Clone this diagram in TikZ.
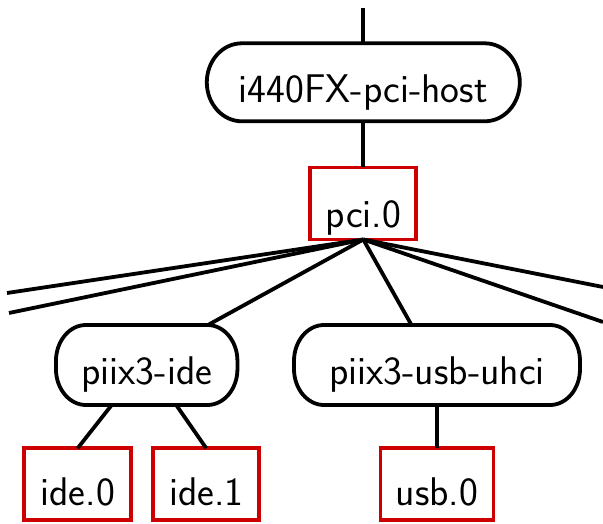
\documentclass[tikz,border=0pt]{standalone}
\definecolor{busred}{RGB}{204,0,0}
\tikzset{
  lbl/.style={font=\fontsize{40}{48}\selectfont\sffamily, inner sep=0pt, outer sep=0pt, text depth=0pt},
  device/.style={lbl},
  bus/.style={lbl, draw=busred, line width=3.8pt},
  outline/.style={draw=black, line width=3.8pt},
  link/.style={draw=black, line width=3.8pt}
}
% border of a device node: straight sides with quarter-ellipse corners
\newcommand\devoutline[3]{%
  \draw[outline] ([xshift=-#2]#1.north east) -- ([xshift=#2]#1.north west)
    arc[start angle=90, end angle=180, x radius=#2, y radius=#3]
    -- ([yshift=#3]#1.south west)
    arc[start angle=180, end angle=270, x radius=#2, y radius=#3]
    -- ([xshift=-#2]#1.south east)
    arc[start angle=270, end angle=360, x radius=#2, y radius=#3]
    -- ([yshift=-#3]#1.north east)
    arc[start angle=0, end angle=90, x radius=#2, y radius=#3]
    -- cycle;}
\begin{document}
\begin{tikzpicture}[x=1pt, y=1pt]
  \useasboundingbox (0,0) rectangle (603,523);

  % devices and buses
  \node[device, minimum width=313pt, minimum height=78pt, text height=41pt]
    (host) at (363.3,440.7) {i440FX-pci-host};
  \node[bus, minimum width=106pt, minimum height=72pt, text height=48pt]
    (pci) at (363.3,319.5) {pci.0};
  \node[device, minimum width=181.5pt, minimum height=80pt, text height=38pt]
    (ide) at (146.7,158) {piix3-ide};
  \node[device, minimum width=286pt, minimum height=80pt, text height=38pt]
    (usb) at (437,158) {piix3-usb-uhci};
  \node[bus, minimum width=106.7pt, minimum height=72pt, text height=42pt]
    (ide0) at (77.7,38.8) {ide.0};
  \node[bus, minimum width=105.7pt, minimum height=72pt, text height=42pt]
    (ide1) at (206.2,38.8) {ide.1};
  \node[bus, minimum width=113pt, minimum height=72pt, text height=42pt]
    (usb0) at (437,38.8) {usb.0};

  \devoutline{host}{35pt}{39pt}
  \devoutline{ide}{30pt}{36pt}
  \devoutline{usb}{30pt}{36pt}

  % loose ends of links leading out of view
  \coordinate (up) at (363.3,515);
  \coordinate (l1) at (7,230);
  \coordinate (l2) at (9,210);
  \coordinate (r1) at (603,236);
  \coordinate (r2) at (603,201);

  % links
  \draw[link] (up) -- (host.north);
  \draw[link] (host.south) -- (pci.north);
  \draw[link] (pci.south) -- (l1);
  \draw[link] (pci.south) -- (l2);
  \draw[link] (pci.south) -- (r1);
  \draw[link] (pci.south) -- (r2);
  \draw[link] (pci.south) -- ([xshift=-29.5pt]ide.north east);
  \draw[link] (pci.south) -- ([xshift=-25.5pt]usb.north);
  \draw[link] ([xshift=-35pt]ide.south) -- (ide0.north);
  \draw[link] ([xshift=29.5pt]ide.south) -- (ide1.north);
  \draw[link] (usb.south) -- (usb0.north);
\end{tikzpicture}
\end{document}
